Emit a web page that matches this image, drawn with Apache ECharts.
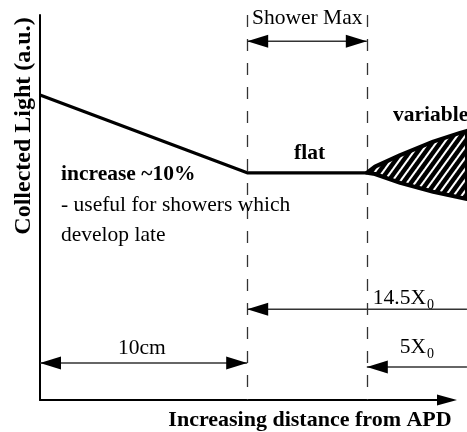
<!DOCTYPE html>
<html><head><meta charset="utf-8">
<script src="https://cdn.jsdelivr.net/npm/echarts@6/dist/echarts.min.js"></script>
<style>html,body{margin:0;padding:0;background:#fff}#c{width:467px;height:432px}</style>
</head><body><div id="c"></div>
<script>
// ---- data (arbitrary units: x = distance 0..100, y = collected light 0..100) ----
const curveX = [0, 50.9, 80.3];
const curveY = [79.2, 59.0, 59.0];
const hatchUpperX = [80.3, 82.3, 88.5, 96.6, 103.2, 104.9];
const hatchUpperY = [59.0, 60.6, 63.6, 67.1, 69.4, 69.9];
const hatchLowerX = [80.3, 82.3, 88.5, 96.6, 104.9];
const hatchLowerY = [59.0, 58.7, 56.4, 54.1, 52.2];
const boundaryX = [50.9, 80.3];
const boundaryY = [100, 0];
const arrowNames = ['Shower Max', '10cm', '14.5X0', '5X0'];
const arrowX1 = [50.9, 0, 104.9, 104.9];
const arrowX2 = [80.3, 50.9, 50.9, 80.3];
const arrowY = [93.2, 9.6, 23.6, 8.6];
const arrowBoth = [1, 1, 0, 0];

const SERIF = '"Liberation Serif", "Times New Roman", serif';

function hatchCanvas() {
  const W = 8, H = 11;
  const c = document.createElement('canvas');
  c.width = W; c.height = H;
  const g = c.getContext('2d');
  g.fillStyle = '#fff'; g.fillRect(0, 0, W, H);
  g.strokeStyle = '#000'; g.lineWidth = 4.4;
  for (let k = -3; k <= 3; k++) {
    g.beginPath();
    g.moveTo(k * W - W, 2 * H);
    g.lineTo((k + 1) * W + W, -H);
    g.stroke();
  }
  return c;
}
const pattern = hatchCanvas();

function head(tip, from) {
  const dx = from[0] - tip[0], dy = from[1] - tip[1];
  const len = Math.hypot(dx, dy) || 1;
  const ux = dx / len, uy = dy / len;
  const L = 21, w = 6.5;
  return {
    type: 'polygon',
    shape: { points: [tip,
      [tip[0] + ux * L - uy * w, tip[1] + uy * L + ux * w],
      [tip[0] + ux * L + uy * w, tip[1] + uy * L - ux * w]] },
    style: { fill: '#000' }
  };
}

function txt(text, x, y, opt) {
  opt = opt || {};
  return {
    type: 'text', x: x, y: y, rotation: opt.rot || 0, z: 100,
    style: {
      text: text,
      font: (opt.bold ? 'bold ' : '') + (opt.size || 21.5) + 'px ' + SERIF,
      fill: '#000',
      align: opt.align || 'left',
      verticalAlign: 'middle'
    }
  };
}

const chart = echarts.init(document.getElementById('c'), null, { renderer: 'canvas' });
chart.setOption({
  animation: false,
  backgroundColor: '#fff',
  grid: { left: 40, right: 20, top: 15, bottom: 32, containLabel: false },
  xAxis: {
    type: 'value', min: 0, max: 100,
    axisLine: { show: true, lineStyle: { color: '#000', width: 2 }, symbol: ['none', 'triangle'], symbolSize: [11, 20] },
    axisTick: { show: false }, axisLabel: { show: false }, splitLine: { show: false }
  },
  yAxis: {
    type: 'value', min: 0, max: 100,
    axisLine: { show: true, lineStyle: { color: '#000', width: 2 } },
    axisTick: { show: false }, axisLabel: { show: false }, splitLine: { show: false }
  },
  series: [
    {
      type: 'lines', coordinateSystem: 'cartesian2d', z: 1,
      data: boundaryX.map(x => ({ coords: [[x, boundaryY[0]], [x, boundaryY[1]]] })),
      lineStyle: { color: '#333', width: 1.3, type: [12, 12], opacity: 1 },
      symbol: 'none'
    },
    {
      type: 'line', z: 3, symbol: 'none',
      data: curveX.map((x, i) => [x, curveY[i]]),
      lineStyle: { color: '#000', width: 3.2 }
    },
    {
      type: 'custom', z: 4, clip: false,
      data: [[hatchUpperX[0], hatchUpperY[0]]],
      renderItem: function (params, api) {
        const pts = [];
        for (let i = 0; i < hatchUpperX.length; i++) pts.push(api.coord([hatchUpperX[i], hatchUpperY[i]]));
        for (let i = hatchLowerX.length - 1; i >= 0; i--) pts.push(api.coord([hatchLowerX[i], hatchLowerY[i]]));
        return {
          type: 'polygon', shape: { points: pts },
          style: { fill: { image: pattern, repeat: 'repeat' }, stroke: '#000', lineWidth: 4, lineJoin: 'round' }
        };
      }
    },
    {
      type: 'custom', z: 5, clip: false,
      data: arrowNames.map((n, i) => [arrowX1[i], arrowY[i], arrowX2[i], arrowY[i], arrowBoth[i]]),
      renderItem: function (params, api) {
        const a = api.coord([api.value(0), api.value(1)]);
        const b = api.coord([api.value(2), api.value(3)]);
        const children = [{ type: 'line', shape: { x1: a[0], y1: a[1], x2: b[0], y2: b[1] }, style: { stroke: '#333', lineWidth: 1.5 } }];
        children.push(head(b, a));
        if (api.value(4)) children.push(head(a, b));
        return { type: 'group', children: children };
      }
    }
  ],
  graphic: [
    txt('Collected Light (a.u.)', 24, 126, { bold: true, size: 24, rot: Math.PI / 2, align: 'center' }),
    txt('Increasing distance from APD', 310, 420, { bold: true, size: 22, align: 'center' }),
    txt('Shower Max', 252, 18),
    txt('variable', 393, 115, { bold: true }),
    txt('flat', 294, 153, { bold: true }),
    txt('increase ~10%', 61, 174, { bold: true }),
    txt('- useful for showers which', 61, 205),
    txt('develop late', 61, 235),
    txt('10cm', 118, 348),
    txt('14.5X', 426, 298, { align: 'right' }),
    txt('0', 427, 305, { size: 14 }),
    txt('5X', 426, 347, { align: 'right' }),
    txt('0', 427, 354, { size: 14 })
  ]
});
</script>
</body></html>
